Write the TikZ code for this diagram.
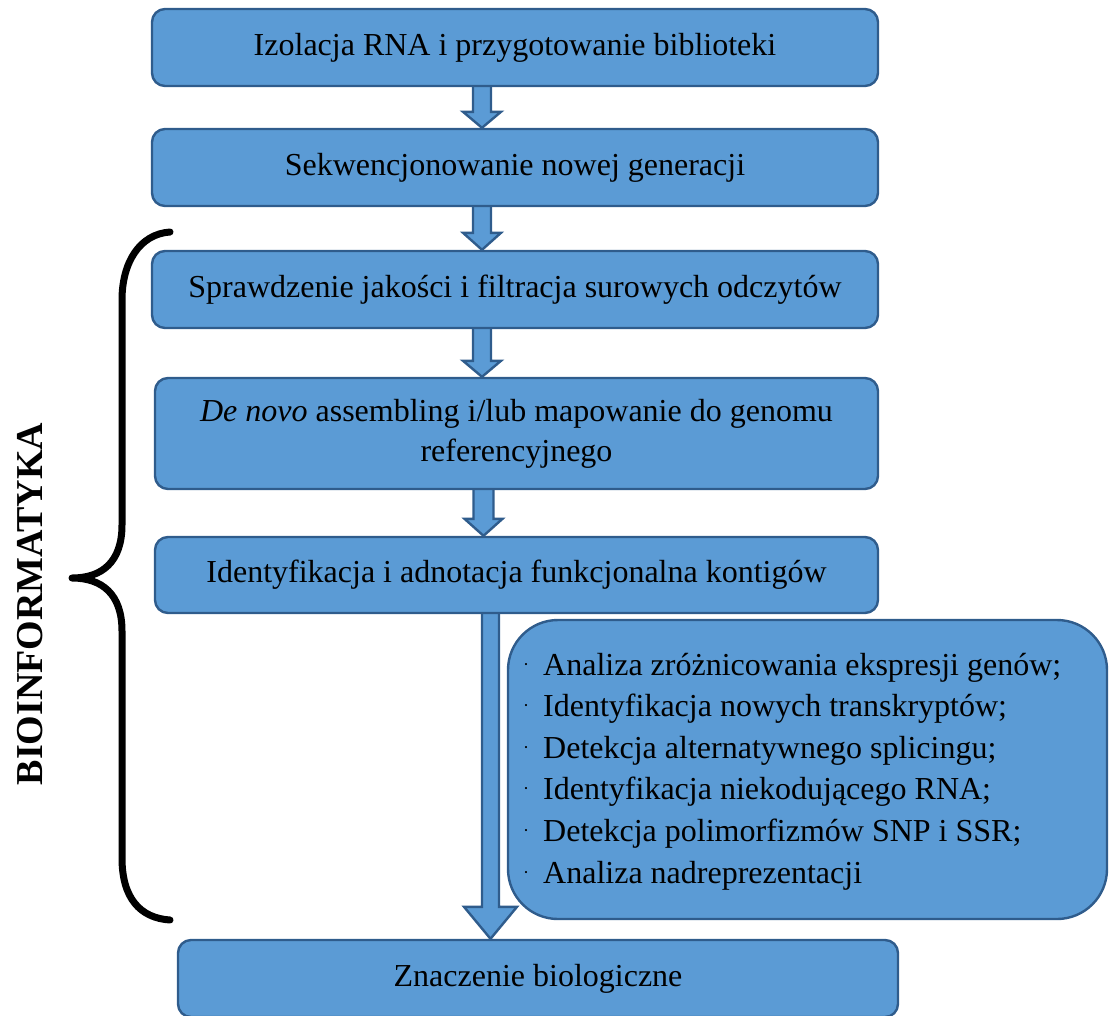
\documentclass[tikz,border=0pt]{standalone}
\usepackage{fontspec}
\setmainfont{Liberation Serif}
\usetikzlibrary{calc,backgrounds}
\definecolor{boxfill}{HTML}{5B9BD5}
\definecolor{boxline}{HTML}{2F5C8C}
\newcommand\blkarrow[6]{% #1 source node, #2 target node, #3 x coordinate, #4 shaft half width, #5 head half width, #6 head length
  \draw[blk] ($(#1.south -| #3)+(-#4,-4)$) -- ($(#2.north -| #3)+(-#4,-#6)$)
    -- ($(#2.north -| #3)+(-#5,-#6)$) -- (#2.north -| #3)
    -- ($(#2.north -| #3)+(#5,-#6)$) -- ($(#2.north -| #3)+(#4,-#6)$)
    -- ($(#1.south -| #3)+(#4,-4)$) -- cycle;}
\newcommand\smalldot{\makebox[20pt][l]{\raisebox{5pt}{\fontsize{18}{18}\selectfont·}}}
\begin{document}
\begin{tikzpicture}[x=1pt,y=-1pt,
  stagebox/.style={draw=boxline, fill=boxfill, line width=2.4pt, rounded corners=13pt,
    font=\fontsize{32}{40}\selectfont, align=center, inner sep=0pt},
  blk/.style={draw=boxline, fill=boxfill, line width=2.4pt, line join=miter},
  listline/.style={anchor=base west, inner sep=0pt, font=\fontsize{32}{40}\selectfont},
  bracestyle/.style={line width=7pt, line cap=round, line join=round}]
\useasboundingbox (0,0) rectangle (1110,1015);

\node[stagebox, minimum width=726pt, minimum height=77pt] (b1) at (515,47.5) {Izolacja RNA i przygotowanie biblioteki};
\node[stagebox, minimum width=726pt, minimum height=77pt] (b2) at (515,167.5) {Sekwencjonowanie nowej generacji};
\node[stagebox, minimum width=726pt, minimum height=77pt] (b3) at (515,289.5) {Sprawdzenie jakości i filtracja surowych odczytów};
\node[stagebox, minimum width=723pt, minimum height=111pt] (b4) at (516.5,433.5) {\textit{De novo} assembling i/lub mapowanie do genomu\\referencyjnego};
\node[stagebox, minimum width=723pt, minimum height=76pt] (b5) at (516.5,575) {Identyfikacja i adnotacja funkcjonalna kontigów};
\node[stagebox, rounded corners=50pt, minimum width=599pt, minimum height=299pt] (b6) at (807.5,769.5) {};
\node[stagebox, minimum width=720pt, minimum height=77pt] (b7) at (538,978.5) {Znaczenie biologiczne};

\node[listline] (l1) at (523,675) {\smalldot Analiza zróżnicowania ekspresji genów;};
\node[listline] (l2) at (523,716.6) {\smalldot Identyfikacja nowych transkryptów;};
\node[listline] (l3) at (523,758.2) {\smalldot Detekcja alternatywnego splicingu;};
\node[listline] (l4) at (523,799.8) {\smalldot Identyfikacja niekodującego RNA;};
\node[listline] (l5) at (523,841.4) {\smalldot Detekcja polimorfizmów SNP i SSR;};
\node[listline] (l6) at (523,883) {\smalldot Analiza nadreprezentacji};

\node[rotate=90, font=\bfseries\fontsize{38}{38}\selectfont, inner sep=0pt] (bio) at (30,604) {BIOINFORMATYKA};

\draw[bracestyle] (170,232) .. controls (140,234) and (122,262) .. (122,300) -- (122,525)
  .. controls (122,562) and (102,578) .. (72,578)
  .. controls (102,578) and (122,594) .. (122,631) -- (122,858)
  .. controls (122,898) and (140,918) .. (170,920);

\coordinate (ax1) at (482,0);
\coordinate (ax4) at (483.5,0);
\coordinate (ax5) at (490.5,0);
\begin{scope}[on background layer]
  \blkarrow{b1}{b2}{ax1}{9}{19}{16}
  \blkarrow{b2}{b3}{ax1}{9}{19}{17}
  \blkarrow{b3}{b4}{ax1}{9}{19}{16}
  \blkarrow{b4}{b5}{ax4}{10}{19}{17}
  \blkarrow{b5}{b7}{ax5}{8.5}{26.5}{32}
\end{scope}
\end{tikzpicture}
\end{document}
